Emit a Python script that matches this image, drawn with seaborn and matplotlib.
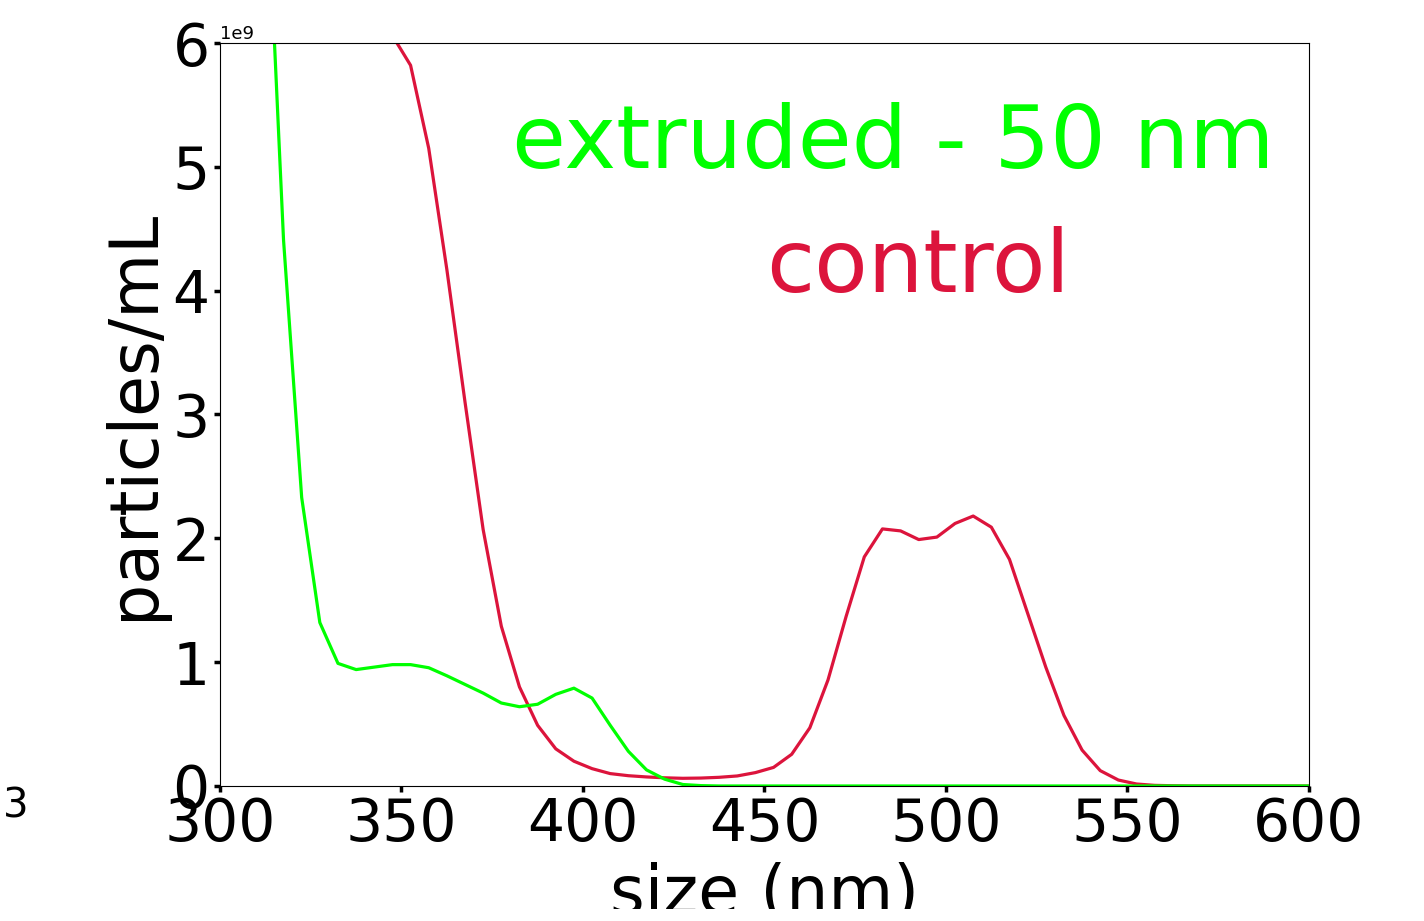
import numpy as np
import pandas as pd
import matplotlib
matplotlib.use("Agg")
import matplotlib.pyplot as plt
from matplotlib.patches import Rectangle
import seaborn as sns

# 입자 크기 (nm), 5 nm 간격 bin 중심
size_nm = [302.5, 307.5, 312.5, 317.5, 322.5, 327.5, 332.5, 337.5, 342.5, 347.5,
           352.5, 357.5, 362.5, 367.5, 372.5, 377.5, 382.5, 387.5, 392.5, 397.5,
           402.5, 407.5, 412.5, 417.5, 422.5, 427.5, 432.5, 437.5, 442.5, 447.5,
           452.5, 457.5, 462.5, 467.5, 472.5, 477.5, 482.5, 487.5, 492.5, 497.5,
           502.5, 507.5, 512.5, 517.5, 522.5, 527.5, 532.5, 537.5, 542.5, 547.5,
           552.5, 557.5, 562.5, 567.5, 572.5, 577.5, 582.5, 587.5, 592.5, 597.5,
           602.5]

# particles/mL (x 1e9)
extruded = [16.0, 11.5, 7.6, 4.41, 2.33, 1.32, 0.99, 0.94, 0.96, 0.98,
            0.98, 0.955, 0.89, 0.82, 0.75, 0.67, 0.64, 0.66, 0.74, 0.79,
            0.71, 0.49, 0.28, 0.13, 0.055, 0.012, 0.003, 0.0, 0.0, 0.0,
            0.0, 0.0, 0.0, 0.0, 0.0, 0.0, 0.0, 0.0, 0.0, 0.0,
            0.0, 0.0, 0.0, 0.0, 0.0, 0.0, 0.0, 0.0, 0.0, 0.0,
            0.0, 0.0, 0.0, 0.0, 0.0, 0.0, 0.0, 0.0, 0.0, 0.0,
            0.0]

control = [12.0, 11.0, 10.0, 9.2, 8.4, 7.7, 7.1, 6.6, 6.3, 6.06,
           5.82, 5.15, 4.17, 3.1, 2.07, 1.29, 0.80, 0.49, 0.30, 0.20,
           0.14, 0.10, 0.083, 0.073, 0.066, 0.062, 0.064, 0.07, 0.081, 0.108,
           0.15, 0.256, 0.47, 0.856, 1.37, 1.85, 2.076, 2.06, 1.99, 2.01,
           2.12, 2.18, 2.09, 1.83, 1.395, 0.96, 0.57, 0.29, 0.124, 0.048,
           0.016, 0.005, 0.002, 0.0, 0.0, 0.0, 0.0, 0.0, 0.0, 0.0,
           0.0]

df = pd.DataFrame({
    "size": size_nm * 2,
    "conc": np.array(control + extruded) * 1e9,
    "sample": ["control"] * len(control) + ["extruded"] * len(extruded),
})

colors = {"control": "#DC143C", "extruded": "#00FF00"}

fig = plt.figure(figsize=(14.24, 9.21), dpi=100)
ax = fig.add_axes([0.1545, 0.1466, 0.7647, 0.8067])

sns.lineplot(data=df, x="size", y="conc", hue="sample",
             hue_order=["control", "extruded"], palette=colors,
             linewidth=2.3, legend=False, ax=ax)

ax.set_xlim(300, 600)
ax.set_ylim(0, 6e9)
ax.set_xticks([300, 350, 400, 450, 500, 550, 600])
ax.set_yticks([0, 1e9, 2e9, 3e9, 4e9, 5e9, 6e9])
ax.tick_params(labelsize=42, width=2.5, length=4)
ax.yaxis.get_offset_text().set_fontsize(13)

ax.set_xlabel("size (nm)", fontsize=48, labelpad=6)
ax.set_ylabel("particles/mL", fontsize=48)

ax.text(0.6185, 0.832, "extruded - 50 nm", transform=ax.transAxes,
        color=colors["extruded"], fontsize=63, ha="center", va="baseline")
ax.text(0.641, 0.665, "control", transform=ax.transAxes,
        color=colors["control"], fontsize=63, ha="center", va="baseline")

fig.text(0.002, 0.124, "3", fontsize=29, ha="left", va="center")

# 원본 이미지 하단의 흰 여백 (x축 라벨이 잘려 보임)
fig.patches.append(Rectangle((0, 0), 1, 12 / 921, transform=fig.transFigure,
                             facecolor="white", edgecolor="none", zorder=10))

fig.savefig("out.png", dpi=100)
